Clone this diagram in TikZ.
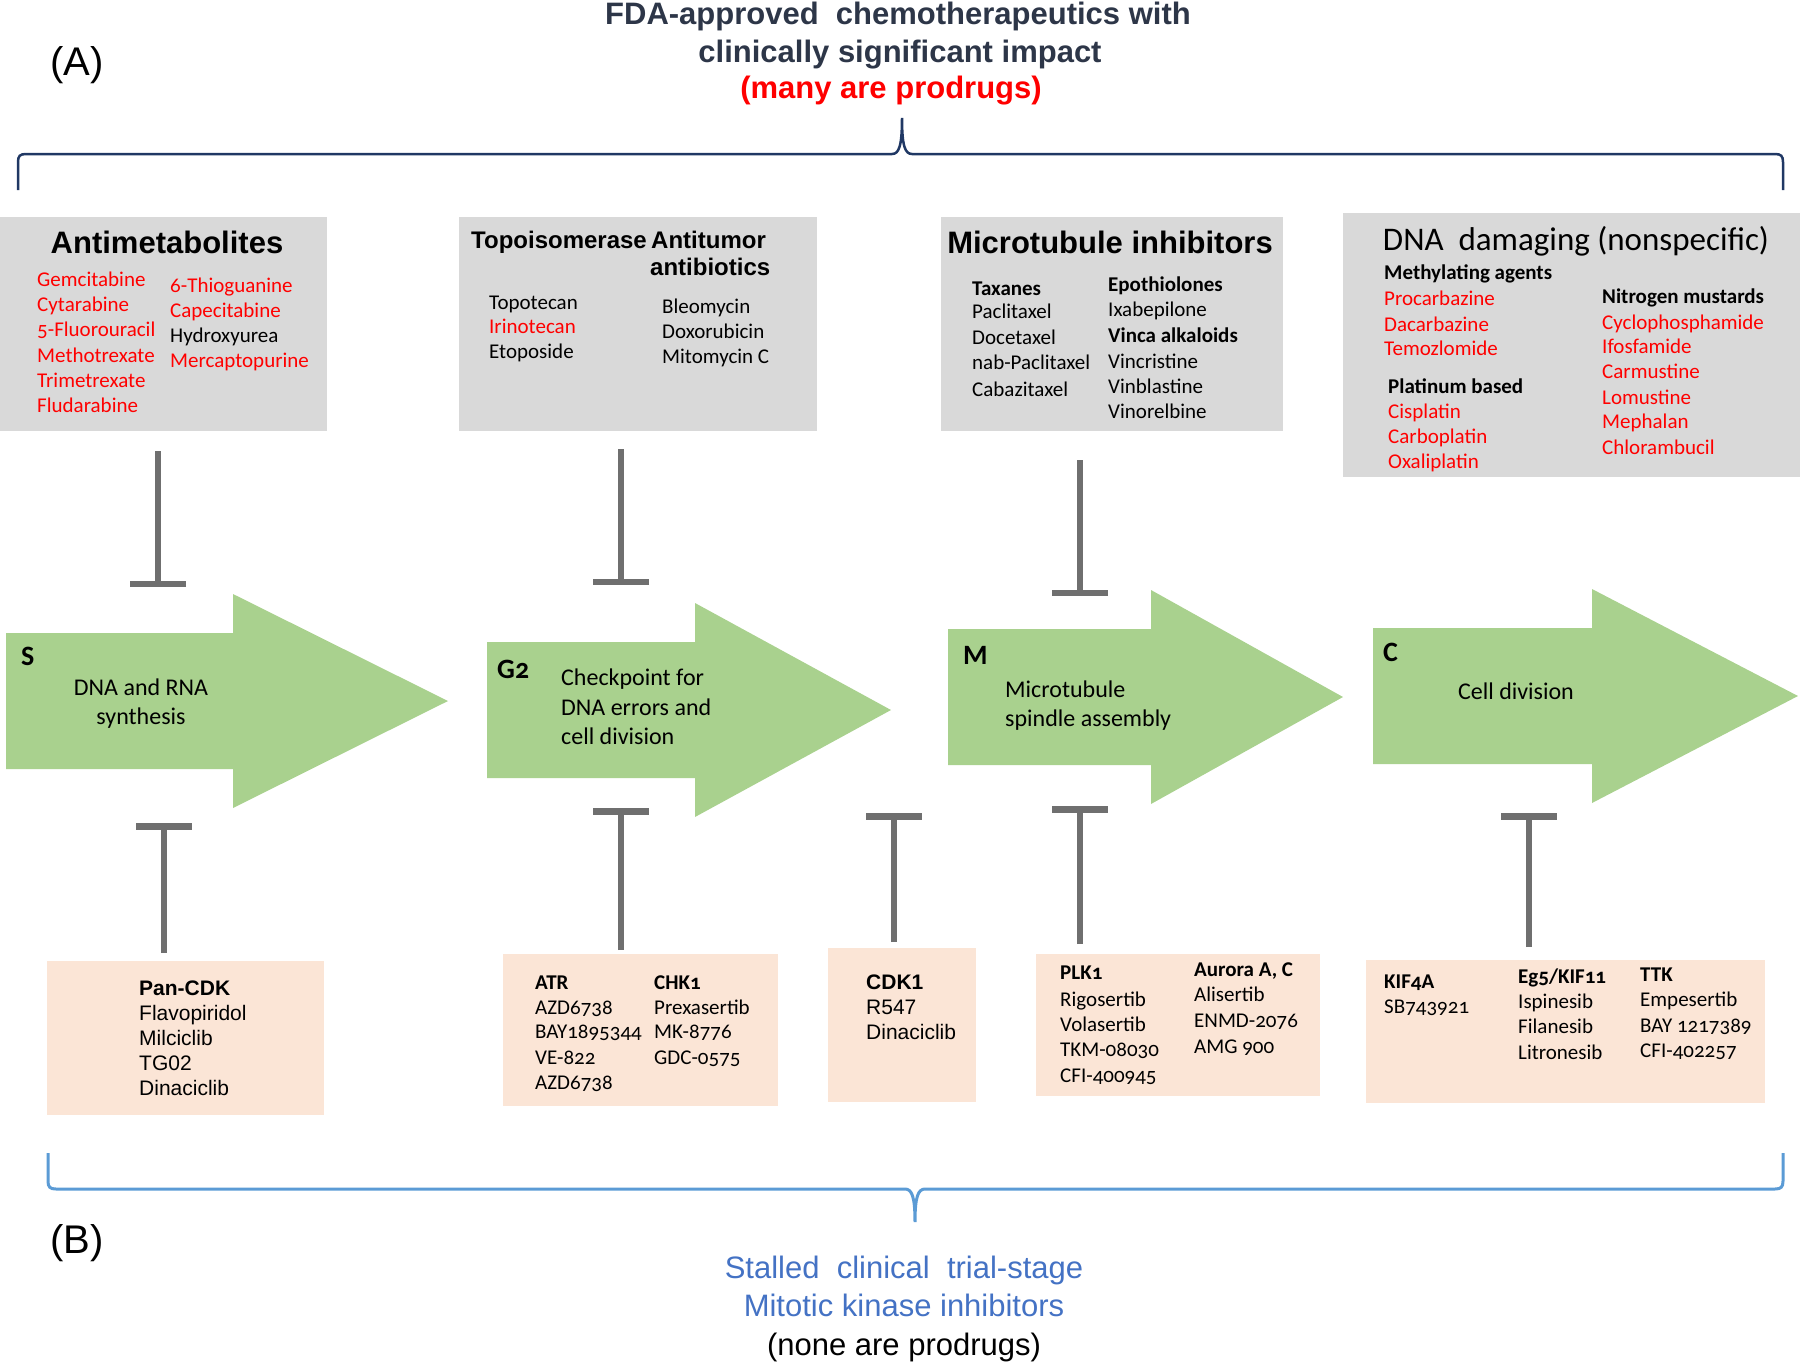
\documentclass[tikz,border=0pt]{standalone}
\usepackage{fontspec}
\setmainfont{Liberation Sans}
\newfontfamily\calib{Carlito}[Numbers=OldStyle]
\usetikzlibrary{arrows.meta}
\newcommand\fsz[2]{\fontsize{#1}{#2}\selectfont}

\definecolor{titleblue}{HTML}{2D3648}
\definecolor{boxgray}{HTML}{D9D9D9}
\definecolor{phasegreen}{HTML}{A9D18E}
\definecolor{peach}{HTML}{FBE5D6}
\definecolor{bargray}{HTML}{6F6F6F}
\definecolor{navy}{HTML}{203864}
\definecolor{lightblue}{HTML}{5B9BD5}
\definecolor{stallblue}{HTML}{4472C4}
\definecolor{drugred}{HTML}{FF0000}

\tikzset{
  graybox/.style={fill=boxgray},
  peachbox/.style={fill=peach},
  phase/.style={fill=phasegreen},
  inhib/.style={draw=bargray, line width=6.5pt, -{Bar[width=56pt]}},
  drug/.style={font=\calib\fsz{21}{25}, anchor=base west, yshift=-6.3pt},
  drugb/.style={drug, font=\calib\bfseries\fsz{21}{25}},
  ardrug/.style={font=\fsz{21}{25}, anchor=base west, yshift=-7pt},
  ardrugb/.style={ardrug, font=\bfseries\fsz{21}{25}},
  head/.style={font=\bfseries\fsz{31}{37}, anchor=base, yshift=-10pt},
  subhead/.style={font=\bfseries\fsz{24}{29}, anchor=base west, yshift=-8pt},
  phasetxt/.style={font=\calib\fsz{24}{29}, anchor=base, yshift=-7pt},
  phasetag/.style={font=\calib\bfseries\fsz{28}{32}, anchor=base west, yshift=-8.5pt},
  panel/.style={font=\fsz{40}{44}, anchor=base, yshift=-12pt},
}

\begin{document}
\begin{tikzpicture}[x=1pt,y=-1pt,every node/.style={inner sep=0pt}]
\useasboundingbox (0,0) rectangle (1800,1366);

% title and brace (A)
\node[head, text=titleblue] (title1) at (898,14) {FDA-approved\ \ chemotherapeutics with};
\node[head, text=titleblue] (title2) at (900,52) {clinically significant impact};
\node[head, text=drugred] (title3) at (891,88) {(many are prodrugs)};
\node[panel] (lblA) at (77,63) {(A)};
\draw[navy, line width=2.5pt] (18,190) -- (18,162) .. controls (18,156) and (20,154) .. (26,154)
  -- (892,154) .. controls (899,154) and (902,146) .. (902,118)
  .. controls (902,146) and (905,154) .. (912,154) -- (1775,154)
  .. controls (1781,154) and (1783,156) .. (1783,162) -- (1783,190);

% drug classes
\fill[graybox] (0,217) rectangle (327,431);
\fill[graybox] (459,217) rectangle (817,431);
\fill[graybox] (941,217) rectangle (1283,431);
\fill[graybox] (1343,213) rectangle (1800,477);

\node[head] (antimet) at (167,243) {Antimetabolites};
\foreach \y/\v [count=\i] in {280/Gemcitabine,305/Cytarabine,330/5-Fluorouracil,356/Methotrexate,381/Trimetrexate,406/Fludarabine}
  \node[drug, text=drugred] (aml\i) at (37,\y) {\v};
\foreach \y/\v/\c [count=\i] in {286/6-Thioguanine/drugred,311/Capecitabine/drugred,336/Hydroxyurea/black,361/Mercaptopurine/drugred}
  \node[drug, text=\c] (amr\i) at (170,\y) {\v};

\node[subhead] (topo) at (471,240) {Topoisomerase};
\node[subhead] (antitum) at (651,240) {Antitumor};
\node[subhead] (antibio) at (650,267) {antibiotics};
\foreach \y/\v/\c [count=\i] in {303/Topotecan/black,327/Irinotecan/drugred,352/Etoposide/black}
  \node[drug, text=\c] (tpl\i) at (489,\y) {\v};
\foreach \y/\v [count=\i] in {307/Bleomycin,332/Doxorubicin,357/Mitomycin C}
  \node[drug] (tpr\i) at (662,\y) {\v};

\node[head] (mtinh) at (1110,243) {Microtubule inhibitors};
\node[drugb] (taxanes) at (972,289) {Taxanes};
\foreach \y/\v [count=\i] in {312/Paclitaxel,338/Docetaxel,363/nab-Paclitaxel,390/Cabazitaxel}
  \node[drug] (mtl\i) at (972,\y) {\v};
\node[drugb] (epoth) at (1108,285) {Epothiolones};
\node[drug] (ixab) at (1108,310) {Ixabepilone};
\node[drugb] (vinca) at (1108,336) {Vinca alkaloids};
\foreach \y/\v [count=\i] in {362/Vincristine,387/Vinblastine,412/Vinorelbine}
  \node[drug] (mtr\i) at (1108,\y) {\v};

\node[head, font=\calib\fsz{33}{40}] (dnadmg) at (1576,240) {DNA~ damaging (nonspecific)};
\node[drugb] (methyl) at (1384,273) {Methylating agents};
\foreach \y/\v [count=\i] in {299/Procarbazine,325/Dacarbazine,349/Temozlomide}
  \node[drug, text=drugred] (me\i) at (1384,\y) {\v};
\node[drugb] (platin) at (1388,387) {Platinum based};
\foreach \y/\v [count=\i] in {412/Cisplatin,437/Carboplatin,462/Oxaliplatin}
  \node[drug, text=drugred] (pt\i) at (1388,\y) {\v};
\node[drugb] (nitro) at (1602,297) {Nitrogen mustards};
\foreach \y/\v [count=\i] in {323/Cyclophosphamide,347/Ifosfamide,372/Carmustine,398/Lomustine,422/Mephalan,448/Chlorambucil}
  \node[drug, text=drugred] (nm\i) at (1602,\y) {\v};

% cell cycle phases
\foreach \xl/\xb/\xt/\yc in {6/233/448/701,487/695/891/710,948/1151/1343/697,1373/1592/1798/696}
  \fill[phase] (\xl,\yc-68) -- (\xb,\yc-68) -- (\xb,\yc-107) -- (\xt,\yc)
    -- (\xb,\yc+107) -- (\xb,\yc+68) -- (\xl,\yc+68) -- cycle;

\node[phasetag] (tagS) at (21,657) {S};
\node[phasetxt] (s1) at (141,688) {DNA and RNA};
\node[phasetxt] (s2) at (141,717) {synthesis};
\node[phasetag] (tagG) at (497,670) {G2};
\foreach \y/\v [count=\i] in {678/Checkpoint for,708/DNA errors and,737/cell division}
  \node[phasetxt, anchor=base west] (g\i) at (561,\y) {\v};
\node[phasetag] (tagM) at (963,656) {M};
\node[phasetxt, anchor=base west] (m1) at (1005,690) {Microtubule};
\node[phasetxt, anchor=base west] (m2) at (1005,719) {spindle assembly};
\node[phasetag] (tagC) at (1383,653) {C};
\node[phasetxt] (c1) at (1516,692) {Cell division};

% inhibition bars
\foreach \x/\ya/\yb [count=\i] in {158/451/587,621/449/585,1080/460/596} {
  \coordinate (up\i) at (\x,\ya);
  \coordinate (upbar\i) at (\x,\yb);
  \draw[inhib] (up\i) -- (upbar\i);
}
\foreach \x/\ya/\yb [count=\i] in {164/953/823,621/950/808,894/942/813,1080/944/806,1529/947/813} {
  \coordinate (dn\i) at (\x,\ya);
  \coordinate (dnbar\i) at (\x,\yb);
  \draw[inhib] (dn\i) -- (dnbar\i);
}

% mitotic kinase inhibitors
\fill[peachbox] (47,961) rectangle (324,1115);
\fill[peachbox] (503,954) rectangle (778,1106);
\fill[peachbox] (828,948) rectangle (976,1102);
\fill[peachbox] (1036,954) rectangle (1320,1096);
\fill[peachbox] (1366,960) rectangle (1765,1103);

\node[ardrugb] (pancdk) at (139,988) {Pan-CDK};
\foreach \y/\v [count=\i] in {1013/Flavopiridol,1038/Milciclib,1063/TG02,1088/Dinaciclib}
  \node[ardrug] (pc\i) at (139,\y) {\v};

\node[drugb] (atr) at (535,983) {ATR};
\foreach \y/\v [count=\i] in {1008/AZD6738,1032/BAY1895344,1058/VE-822,1083/AZD6738}
  \node[drug] (atr\i) at (535,\y) {\v};
\node[drugb] (chk) at (654,983) {CHK1};
\foreach \y/\v [count=\i] in {1008/Prexasertib,1032/MK-8776,1058/GDC-0575}
  \node[drug] (chk\i) at (654,\y) {\v};

\node[ardrugb] (cdk) at (866,982) {CDK1};
\foreach \y/\v [count=\i] in {1007/R547,1032/Dinaciclib}
  \node[ardrug] (cdk\i) at (866,\y) {\v};

\node[drugb] (plk) at (1060,973) {PLK1};
\foreach \y/\v [count=\i] in {1000/Rigosertib,1025/Volasertib,1050/TKM-08030,1076/CFI-400945}
  \node[drug] (plk\i) at (1060,\y) {\v};
\node[drugb] (aurora) at (1194,970) {Aurora A, C};
\foreach \y/\v [count=\i] in {995/Alisertib,1021/ENMD-2076,1047/AMG 900}
  \node[drug] (aur\i) at (1194,\y) {\v};

\node[drugb] (kif4) at (1384,982) {KIF4A};
\node[drug] (kif41) at (1384,1007) {SB743921};
\node[drugb] (eg5) at (1518,977) {Eg5/KIF11};
\foreach \y/\v [count=\i] in {1002/Ispinesib,1027/Filanesib,1053/Litronesib}
  \node[drug] (eg\i) at (1518,\y) {\v};
\node[drugb] (ttk) at (1640,975) {TTK};
\foreach \y/\v [count=\i] in {1000/Empesertib,1026/BAY 1217389,1051/CFI-402257}
  \node[drug] (ttk\i) at (1640,\y) {\v};

% brace (B)
\draw[lightblue, line width=3pt] (48,1153) -- (48,1181) .. controls (48,1187) and (50,1189) .. (56,1189)
  -- (905,1189) .. controls (912,1189) and (915,1197) .. (915,1222)
  .. controls (915,1197) and (918,1189) .. (925,1189) -- (1775,1189)
  .. controls (1781,1189) and (1783,1187) .. (1783,1181) -- (1783,1153);
\node[panel] (lblB) at (77,1241) {(B)};
\node[head, font=\fsz{31}{38}, text=stallblue] (stall1) at (904,1268) {Stalled\ \ clinical\ \ trial-stage};
\node[head, font=\fsz{31}{38}, text=stallblue] (stall2) at (904,1306) {Mitotic kinase inhibitors};
\node[head, font=\fsz{31}{38}] (stall3) at (904,1345) {(none are prodrugs)};
\end{tikzpicture}
\end{document}
